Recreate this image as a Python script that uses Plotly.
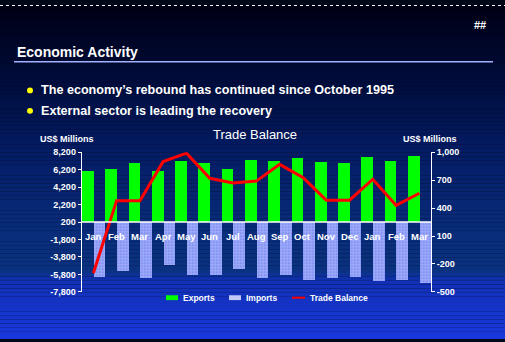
import plotly.graph_objects as go

# Monthly trade figures, January of one year through March of the next
months = ["Jan", "Feb", "Mar", "Apr", "May", "Jun", "Jul", "Aug",
          "Sep", "Oct", "Nov", "Dec", "Jan", "Feb", "Mar"]
exports = [6050, 6300, 6950, 6050, 7200, 6950, 6300, 7250,
           7150, 7500, 7050, 6950, 7600, 7150, 7750]
imports = [-6150, -5450, -6200, -4750, -5900, -5900, -5250, -6250,
           -5900, -6450, -6250, -6150, -6550, -6450, -6800]
trade_balance = [-300, 480, 480, 900, 990, 720, 670, 690,
                 870, 730, 485, 485, 710, 430, 560]

left_ticks = [8200, 6200, 4200, 2200, 200, -1800, -3800, -5800, -7800]
right_ticks = [1000, 700, 400, 100, -200, -500]
BASELINE = 200

W, H = 505, 342
SANS = "Liberation Sans, Arial, sans-serif"

x = list(range(len(months)))

fig = go.Figure()
fig.add_trace(go.Bar(
    x=x, y=[v - BASELINE for v in exports], base=BASELINE, name="Exports",
    marker=dict(color="#00ff00", line=dict(width=0)), yaxis="y",
))
fig.add_trace(go.Bar(
    x=x, y=[v - BASELINE for v in imports], base=BASELINE, name="Imports",
    marker=dict(color="rgba(0,0,0,0)", line=dict(width=0),
                pattern=dict(shape=".", size=3, solidity=0.8,
                             fgcolor="#ffffff", bgcolor="#4058f0")),
    yaxis="y",
))
fig.add_trace(go.Scatter(
    x=x, y=trade_balance, name="Trade Balance", mode="lines",
    line=dict(color="#ff0000", width=3), yaxis="y2",
))


def px_x(p):
    return p / W


def px_y(p):
    return 1 - p / H


# Vertical background gradient built from thin bands
stops = [(0, (0, 0, 20)), (40, (0, 6, 40)), (90, (0, 14, 66)),
         (150, (4, 28, 100)), (220, (8, 42, 120)), (274, (10, 50, 128)),
         (284, (18, 48, 180)), (342, (24, 56, 220))]
shapes = []
band = 4
for top in range(0, H, band):
    mid = top + band / 2
    for (y0, c0), (y1, c1) in zip(stops[:-1], stops[1:]):
        if y0 <= mid <= y1:
            t = (mid - y0) / (y1 - y0)
            col = tuple(int(round(a + (b - a) * t)) for a, b in zip(c0, c1))
            break
    shapes.append(dict(type="rect", xref="paper", yref="paper",
                       x0=0, x1=1, y0=px_y(top + band), y1=px_y(top),
                       fillcolor="rgb(%d,%d,%d)" % col, line=dict(width=0),
                       layer="below"))

# dotted rule along the top edge
shapes.append(dict(type="line", xref="paper", yref="paper", x0=0, x1=1,
                   y0=px_y(0.5), y1=px_y(0.5),
                   line=dict(color="#ffffff", width=1, dash="dot")))
# heading underline
shapes.append(dict(type="line", xref="paper", yref="paper",
                   x0=px_x(14), x1=px_x(493), y0=px_y(58.5), y1=px_y(58.5),
                   line=dict(color="#9fb4ff", width=1.5)))
# bullet dots
for cy in (88, 109):
    shapes.append(dict(type="circle", xref="paper", yref="paper",
                       x0=px_x(27), x1=px_x(33), y0=px_y(cy + 3), y1=px_y(cy - 3),
                       fillcolor="#ffff00", line=dict(width=0)))
# white baseline under the bars
shapes.append(dict(type="line", xref="x", yref="y", x0=-0.5, x1=14.5,
                   y0=BASELINE, y1=BASELINE,
                   line=dict(color="#ffffff", width=1.5)))

# legend drawn by hand
leg_y = 301.5
shapes.append(dict(type="rect", xref="paper", yref="paper",
                   x0=px_x(166), x1=px_x(178), y0=px_y(leg_y + 2.5), y1=px_y(leg_y - 2.5),
                   fillcolor="#00ff00", line=dict(width=0)))
shapes.append(dict(type="rect", xref="paper", yref="paper",
                   x0=px_x(229), x1=px_x(241), y0=px_y(leg_y + 2.5), y1=px_y(leg_y - 2.5),
                   fillcolor="#c0c8fa", line=dict(width=0)))
shapes.append(dict(type="line", xref="paper", yref="paper",
                   x0=px_x(292), x1=px_x(305), y0=px_y(leg_y), y1=px_y(leg_y),
                   line=dict(color="#ff0000", width=2)))

annotations = []


def label(text, xp, yp, size, xanchor="left", bold=True, color="#ffffff"):
    annotations.append(dict(
        text="<b>%s</b>" % text if bold else text, xref="paper", yref="paper",
        x=px_x(xp), y=px_y(yp), xanchor=xanchor, yanchor="middle",
        showarrow=False, font=dict(family=SANS, size=size, color=color)))


label("Economic Activity", 15, 48, 14)
label("##", 480, 21, 11, xanchor="center")
label("The economy’s rebound has continued since October 1995", 39, 88, 12.6)
label("External sector is leading the recovery", 39, 109, 12.6)
label("Trade Balance", 255, 133, 13, xanchor="center", bold=False)
label("US$ Millions", 67, 138, 9, xanchor="center")
label("US$ Millions", 430, 138, 9, xanchor="center")
label("Exports", 181, leg_y, 8.5)
label("Imports", 244, leg_y, 8.5)
label("Trade Balance", 308, leg_y, 8.5)

for i, m in enumerate(months):
    annotations.append(dict(
        text="<b>%s</b>" % m, x=i, y=-1500, xref="x", yref="y",
        showarrow=False, xanchor="center", yanchor="middle",
        font=dict(family=SANS, size=9.5, color="#ffffff")))

tickfont = dict(family=SANS, size=9, color="#ffffff")
fig.update_layout(
    width=W, height=H, margin=dict(l=0, r=0, t=0, b=0),
    paper_bgcolor="#000818", plot_bgcolor="rgba(0,0,0,0)",
    showlegend=False, barmode="group", bargap=0, bargroupgap=0,
    xaxis=dict(domain=[px_x(81.7), px_x(431)], range=[-0.5, 14.5],
               showgrid=False, zeroline=False, showticklabels=False,
               ticks="", showline=False),
    yaxis=dict(domain=[px_y(295.5), px_y(151.7)], range=[-7800, 8200],
               tickvals=left_ticks, ticktext=["<b>%s</b>" % format(v, ",") for v in left_ticks],
               showgrid=False, zeroline=False, showline=True, linecolor="#ffffff",
               linewidth=1, ticks="outside", ticklen=3, tickcolor="#ffffff",
               tickfont=tickfont, anchor="x", side="left"),
    yaxis2=dict(domain=[px_y(295.5), px_y(151.7)], range=[-500, 1000],
                tickvals=right_ticks, ticktext=["<b>%s</b>" % format(v, ",") for v in right_ticks],
                overlaying="y", side="right", anchor="x",
                showgrid=False, zeroline=False, showline=True, linecolor="#ffffff",
                linewidth=1, ticks="outside", ticklen=3, tickcolor="#ffffff",
                tickfont=tickfont),
    shapes=shapes, annotations=annotations,
)

fig.write_html("out.html")
